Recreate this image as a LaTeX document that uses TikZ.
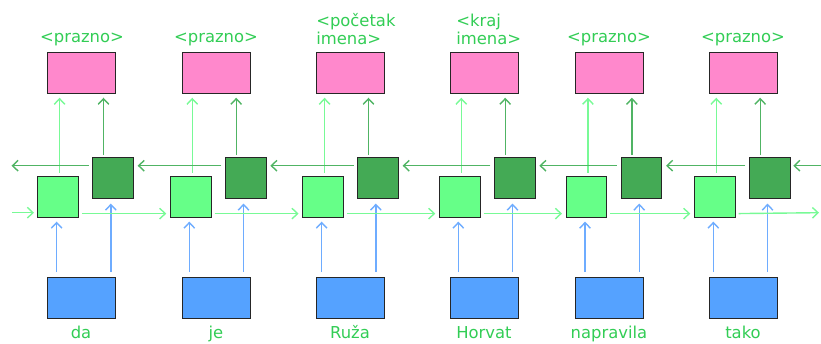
\documentclass[tikz,border=0pt]{standalone}
\usepackage{fontspec}
\setmainfont{DejaVu Sans}
\usetikzlibrary{arrows.meta,calc}
\definecolor{pinkfill}{RGB}{255,136,204}
\definecolor{lgfill}{RGB}{102,255,136}
\definecolor{dgfill}{RGB}{68,170,85}
\definecolor{bluefill}{RGB}{85,162,255}
\definecolor{lgline}{RGB}{120,250,150}
\definecolor{dgline}{RGB}{80,180,100}
\definecolor{blueline}{RGB}{110,172,255}
\definecolor{txtgreen}{RGB}{50,205,85}

\begin{document}
\begin{tikzpicture}[x=0.75pt,y=-0.75pt,>={Straight Barb[length=4.2pt,width=8pt]},
  cell/.style={draw=black!85,line width=0.8pt,inner sep=0pt,anchor=north west},
  square/.style={cell,minimum width=30.4pt,minimum height=30.4pt},
  wide/.style={cell,minimum width=51pt,minimum height=30.5pt},
  lab/.style={text=txtgreen,inner sep=0pt,font=\fontsize{12.3}{13.5}\selectfont},
  lgarrow/.style={draw=lgline,line width=1.05pt,->},
  dgarrow/.style={draw=dgline,line width=1.05pt,->},
  bluearrow/.style={draw=blueline,line width=1.05pt,->}]
  \useasboundingbox (0,0) rectangle (821,343);
  % one column per word
  \foreach \i/\lx/\bx/\w in {1/37.3/47/da,2/170/182/je,3/302.3/316/Ruža,
      4/439/450/Horvat,5/565.7/575/napravila,6/694/709/tako}{
    \node[wide,fill=pinkfill] (pk\i) at (\bx,52) {};
    \node[square,fill=lgfill] (lg\i) at (\lx,176) {};
    \node[square,fill=dgfill] (dg\i) at (\lx+55,157.3) {};
    \node[wide,fill=bluefill] (bl\i) at (\bx,277) {};
    \node[lab,anchor=base] (w\i) at (\bx+34,338) {\w};
    \draw[lgarrow,shorten <=2.5pt,shorten >=3pt] ([xshift=1.1pt]lg\i.north) -- ([xshift=1.1pt]lg\i.north |- pk\i.south);
    \draw[dgarrow,shorten <=1.7pt,shorten >=3pt] ([xshift=-7.2pt]dg\i.north) -- ([xshift=-7.2pt]dg\i.north |- pk\i.south);
    \draw[bluearrow,shorten <=3.7pt,shorten >=3pt] ([xshift=-1.1pt]lg\i.south |- bl\i.north) -- ([xshift=-1.1pt]lg\i.south);
    \draw[bluearrow,shorten <=3.7pt,shorten >=3.5pt] ([xshift=-1.7pt]dg\i.south |- bl\i.north) -- ([xshift=-1.7pt]dg\i.south);
  }
  % labels above
  \node[lab,anchor=base] (t1) at (82,42.5) {<prazno>};
  \node[lab,anchor=base] (t2) at (216,42.5) {<prazno>};
  \node[lab,anchor=base west,align=left] (t3) at (316,44) {<početak\\imena>};
  \node[lab,anchor=base west,align=left] (t4) at (456,44) {<kraj\\imena>};
  \node[lab,anchor=base] (t5) at (609,42.5) {<prazno>};
  \node[lab,anchor=base] (t6) at (743,42.5) {<prazno>};
  % recurrent connections
  \foreach \i/\j in {1/2,2/3,3/4,4/5,5/6}{
    \draw[lgarrow,shorten <=2.2pt,shorten >=2.8pt] ([yshift=3pt]lg\i.south east) -- ([yshift=3pt]lg\j.south west);
    \draw[dgarrow,shorten <=2.8pt,shorten >=2.8pt] ([yshift=-6.3pt]dg\j.north west) -- ([yshift=-6.3pt]dg\i.north east);
  }
  \coordinate (fin) at (12,212.7);
  \coordinate (fout) at (819,212.7);
  \coordinate (bin) at (821,165.7);
  \coordinate (bout) at (11.5,165.7);
  \draw[lgarrow,shorten >=2.5pt] (fin) -- (fin -| lg1.west);
  \draw[lgarrow,shorten <=2.2pt] ([yshift=3pt]lg6.south east) -- (fout);
  \draw[dgarrow,shorten <=2.8pt] ([yshift=-6.3pt]dg1.north west) -- (bout);
  \draw[dgarrow,shorten >=2pt] (bin) -- (bin -| dg6.east);
\end{tikzpicture}
\end{document}
